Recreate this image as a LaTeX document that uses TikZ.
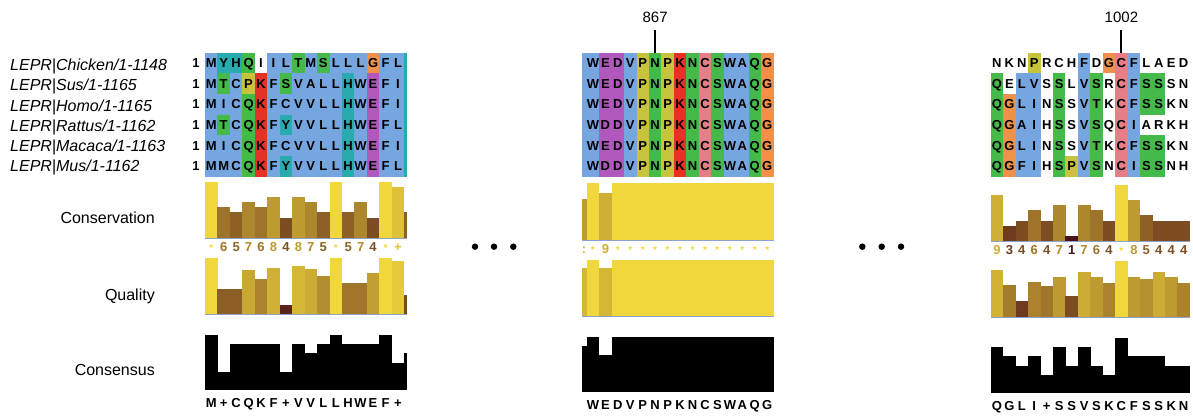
\documentclass[tikz,border=0pt]{standalone}
\usepackage{fontspec}
\setmainfont{Liberation Sans}
\definecolor{cb}{RGB}{118,166,224}
\definecolor{ct}{RGB}{40,170,175}
\definecolor{cg}{RGB}{70,185,75}
\definecolor{cy}{RGB}{200,195,60}
\definecolor{cr}{RGB}{228,50,40}
\definecolor{cp}{RGB}{176,88,188}
\definecolor{co}{RGB}{238,145,75}
\definecolor{ck}{RGB}{232,125,135}
\definecolor{cw}{RGB}{255,255,255}
\definecolor{consHi}{RGB}{240,215,60}
\definecolor{consLo}{RGB}{60,0,20}
\definecolor{baseC}{RGB}{140,160,210}
\def\cwd{12.45}
\def\rh{20.67}
\def\ytop{52.7}
\def\st{{\fontsize{10}{10}\selectfont *}}
\newcommand\myaln[3]{%
  \foreach \row [count=\r] in {#3}{%
    \foreach \ch/\cl [count=\c] in \row {%
      \fill[fill=c\cl] ({#2+(\c-1)*\cwd},{\ytop+(\r-1)*\rh}) rectangle ++(\cwd+0.25,\rh+0.25);
      \node[seq] (#1r\r c\c) at ({#2+(\c-0.5)*\cwd},{\ytop+(\r-0.5)*\rh+4.6}) {\ch};
    }}}
\newcommand\myann[4]{%
  \foreach \v/\lab/\q/\k/\cs [count=\c] in {#4}{%
    \pgfmathsetmacro\xl{#2+(\c-1)*\cwd}
    \pgfmathtruncatemacro\pc{100*\v/11}
    \pgfmathtruncatemacro\pq{100*\q}
    \colorlet{tmpc}{consHi!\pc!consLo}
    \colorlet{tmpq}{consHi!\pq!consLo}
    \fill[fill=tmpc] (\xl,{238+#3}) rectangle ++(\cwd+0.25,{-56.3*\v/11});
    \node[num, text=tmpc] (#1n\c) at ({\xl+\cwd/2},{251.5+#3}) {\lab};
    \fill[fill=tmpq] (\xl,{314+#3}) rectangle ++(\cwd+0.25,{-56*\q});
    \fill[black] (\xl,{390+#3}) rectangle ++(\cwd+0.25,{-55*\k});
    \node[seq] (#1s\c) at ({\xl+\cwd/2},{407.5+#3}) {\cs};
  }}
\begin{document}
\begin{tikzpicture}[x=1pt,y=-1pt,
  seq/.style={font=\fontsize{13}{13}\selectfont\bfseries, inner sep=0pt, anchor=base},
  num/.style={font=\fontsize{13}{13}\selectfont\bfseries, inner sep=0pt, anchor=base},
  lbl/.style={font=\fontsize{16}{16}\selectfont\itshape, inner sep=0pt, anchor=base west},
  ann/.style={font=\fontsize{16}{16}\selectfont, inner sep=0pt, anchor=base east},
  postxt/.style={font=\fontsize{15}{15}\selectfont, inner sep=0pt, anchor=base},
  dot/.style={circle, fill=black, inner sep=0pt, minimum size=6.5pt},
  tickline/.style={line width=2pt}]
\useasboundingbox (0,0) rectangle (1193,415);
% ---------- sequence names ----------
\foreach \nm [count=\r] in {Chicken/1-1148,Sus/1-1165,Homo/1-1165,Rattus/1-1162,Macaca/1-1163,Mus/1-1162}{
  \node[lbl] (lab\r) at (10,{70.5+20.25*(\r-1)}) {LEPR|\nm};
  \node[seq] (one\r) at (196,{\ytop+(\r-0.5)*\rh+4.6}) {1};
}
% ---------- annotation labels ----------
\node[ann] (tcons) at (155,223) {Conservation};
\node[ann] (tqual) at (155,300.5) {Quality};
\node[ann] (tcsus) at (155,375.5) {Consensus};
% ---------- panel 1 ----------
\fill[ct] (404.2,\ytop) rectangle (406.7,{\ytop+6*\rh});
\myaln{pa}{205}{
 {M/b,Y/t,H/t,Q/g,I/w,I/b,L/b,T/g,M/b,S/g,L/b,L/b,L/b,G/o,F/b,L/b},
 {M/b,T/g,C/b,P/y,K/r,F/b,S/g,V/b,A/b,L/b,L/b,H/t,W/b,E/p,F/b,I/b},
 {M/b,I/b,C/b,Q/g,K/r,F/b,C/b,V/b,V/b,L/b,L/b,H/t,W/b,E/p,F/b,I/b},
 {M/b,T/g,C/b,Q/g,K/r,F/b,Y/t,V/b,V/b,L/b,L/b,H/t,W/b,E/p,F/b,L/b},
 {M/b,I/b,C/b,Q/g,K/r,F/b,C/b,V/b,V/b,L/b,L/b,H/t,W/b,E/p,F/b,I/b},
 {M/b,M/b,C/b,Q/g,K/r,F/b,Y/t,V/b,V/b,L/b,L/b,H/t,W/b,E/p,F/b,L/b}}
\myann{pa}{205}{0}{11/\st/1/1/M, 6/6/.44/.33/+, 5/5/.44/.83/C, 7/7/.79/.83/Q,
 6/6/.62/.83/K, 8/8/.82/.83/F, 4/4/.16/.33/+, 8/8/.85/.83/V, 7/7/.80/.67/V,
 5/5/.67/.83/L, 11/\st/1/1/L, 5/5/.56/.83/H, 7/7/.56/.83/W, 4/4/.74/.83/E,
 11/\st/1/1/F, 10/+/.94/.5/+}
\colorlet{tmpc}{consHi!45!consLo}
\fill[tmpc] (404.2,238) rectangle (406.7,{238-56.3*5/11});
\colorlet{tmpc}{consHi!34!consLo}
\fill[tmpc] (404.2,314) rectangle (406.7,{314-56*.34});
\fill[black] (404.2,390) rectangle (406.7,{390-55*.67});
\draw[baseC, line width=1pt] (205,238.5) -- (406.7,238.5);
\draw[baseC, line width=1pt] (205,314.5) -- (406.7,314.5);
% ---------- panel 2 ----------
\fill[cb] (582.3,\ytop) rectangle (586.9,{\ytop+6*\rh});
\myaln{pb}{586.7}{
 {W/b,E/p,D/p,V/b,P/y,N/g,P/y,K/r,N/g,C/k,S/g,W/b,A/b,Q/g,G/o},
 {W/b,E/p,D/p,V/b,P/y,N/g,P/y,K/r,N/g,C/k,S/g,W/b,A/b,Q/g,G/o},
 {W/b,E/p,D/p,V/b,P/y,N/g,P/y,K/r,N/g,C/k,S/g,W/b,A/b,Q/g,G/o},
 {W/b,D/p,D/p,V/b,P/y,N/g,P/y,K/r,N/g,C/k,S/g,W/b,A/b,Q/g,G/o},
 {W/b,E/p,D/p,V/b,P/y,N/g,P/y,K/r,N/g,C/k,S/g,W/b,A/b,Q/g,G/o},
 {W/b,D/p,D/p,V/b,P/y,N/g,P/y,K/r,N/g,C/k,S/g,W/b,A/b,Q/g,G/o}}
\myann{pb}{586.7}{1.5}{11/\st/1/1/W, 9/9/.85/.67/E, 11/\st/1/1/D, 11/\st/1/1/V,
 11/\st/1/1/P, 11/\st/1/1/N, 11/\st/1/1/P, 11/\st/1/1/K, 11/\st/1/1/N,
 11/\st/1/1/C, 11/\st/1/1/S, 11/\st/1/1/W, 11/\st/1/1/A, 11/\st/1/1/Q, 11/\st/1/1/G}
\colorlet{tmpc}{consHi!72!consLo}
\fill[tmpc] (582.3,239.5) rectangle (586.9,{239.5-56.3*8/11});
\colorlet{tmpc}{consHi!85!consLo}
\fill[tmpc] (582.3,315.5) rectangle (586.9,{315.5-56*.85});
\fill[black] (582.3,391.5) rectangle (586.9,{391.5-55*.83});
\node[num, text=tmpc] (pbcolon) at (584,253) {:};
\draw[baseC, line width=1pt] (582.3,240) -- (773.5,240);
\draw[baseC, line width=1pt] (582.3,316) -- (773.5,316);
\node[postxt] (l867) at (655.1,22) {867};
\coordinate (t867) at (655.1,30);
\coordinate (b867) at (655.1,52.7);
\draw[tickline] (t867) -- (b867);
% ---------- panel 3 ----------
\myaln{pc}{990.7}{
 {N/w,K/w,N/w,P/y,R/w,C/w,H/w,F/b,D/w,G/o,C/k,F/b,L/w,A/w,E/w,D/w},
 {Q/g,E/w,L/b,V/b,S/w,S/g,L/w,V/b,S/g,R/w,C/k,F/b,S/g,S/g,S/w,N/w},
 {Q/g,G/o,L/b,I/b,N/w,S/g,S/w,V/b,T/g,K/w,C/k,F/b,S/g,S/g,K/w,N/w},
 {Q/g,G/o,A/b,I/b,H/w,S/g,S/w,V/b,S/g,Q/w,C/k,I/b,A/w,R/w,K/w,H/w},
 {Q/g,G/o,L/b,I/b,N/w,S/g,S/w,V/b,T/g,K/w,C/k,F/b,S/g,S/g,K/w,N/w},
 {Q/g,G/o,F/b,I/b,H/w,S/g,P/y,V/b,S/g,N/w,C/k,I/b,S/g,S/g,N/w,H/w}}
\myann{pc}{990.7}{3}{9/9/.84/.83/Q, 3/3/.58/.67/G, 4/4/.28/.5/L, 6/6/.62/.67/I,
 4/4/.55/.33/+, 7/7/.72/.83/S, 1/1/.37/.5/S, 7/7/.80/.83/V, 6/6/.72/.5/S,
 4/4/.61/.33/K, 11/\st/1/1/C, 8/8/.72/.67/F, 5/5/.68/.67/S, 4/4/.80/.67/S,
 4/4/.72/.5/K, 4/4/.61/.5/N}
\draw[baseC, line width=1pt] (990.7,241.5) -- (1190,241.5);
\draw[baseC, line width=1pt] (990.7,317.5) -- (1190,317.5);
\node[postxt] (l1002) at (1121.4,22) {1002};
\coordinate (t1002) at (1121.4,30);
\coordinate (b1002) at (1121.4,52.7);
\draw[tickline] (t1002) -- (b1002);
% ---------- ellipsis dots ----------
\node[dot] (d1) at (475,246.7) {};
\node[dot] (d2) at (494,246.7) {};
\node[dot] (d3) at (513.3,246.7) {};
\node[dot] (d4) at (862.3,246.7) {};
\node[dot] (d5) at (881.7,246.7) {};
\node[dot] (d6) at (901,246.7) {};
\end{tikzpicture}
\end{document}
